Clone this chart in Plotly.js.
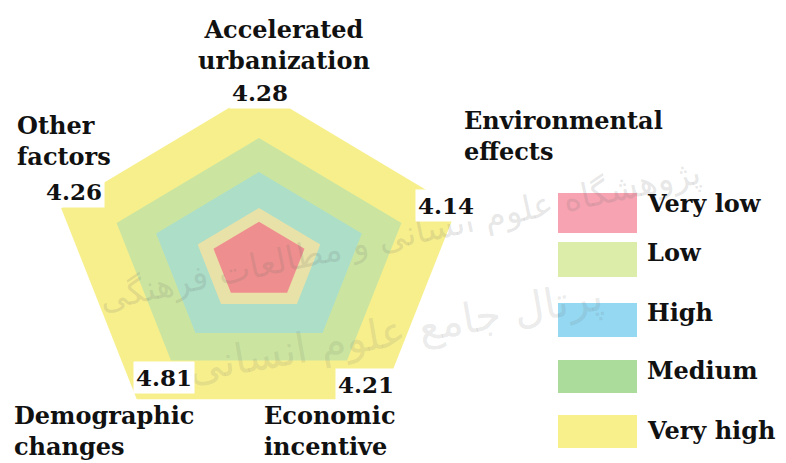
<!DOCTYPE html>
<html>
<head>
<meta charset="utf-8">
<script src="https://cdn.plot.ly/plotly-3.0.1.min.js"></script>
<style>html,body{margin:0;padding:0;background:#fff;}#chart{width:786px;height:463px;}</style>
</head>
<body>
<div id="chart"></div>
<script>
// ---- data ----
const categories = ['Accelerated<br>urbanization', 'Environmental<br>effects', 'Economic<br>incentive', 'Demographic<br>changes', 'Other<br>factors'];
const scores = [4.28, 4.14, 4.21, 4.81, 4.26];
const levels = ['Very low', 'Low', 'High', 'Medium', 'Very high'];
const levelRadius = [1.15, 1.55, 2.6, 3.6, 5.0];   // outer edge of each band, 0-5 scale
const fillColors = ['#ef8e8e', '#e9e2a8', '#acdec8', '#cbe5a0', '#f7ef8c'];
const legendColors = ['#f7a3b2', '#dcedaa', '#94d8f2', '#acdc9c', '#f8f08a'];
const watermark = ['پژوهشگاه علوم انسانی و مطالعات فرهنگی', 'پرتال جامع علوم انسانی'];

// ---- build ----
const W = 786, H = 463;
const n = categories.length;
function ang(i) { return (90 - 360 * i / n) * Math.PI / 180; }
function ring(r) {
  const xs = [], ys = [];
  for (let i = 0; i <= n; i++) { const a = ang(i % n); xs.push(r * Math.cos(a)); ys.push(r * Math.sin(a)); }
  return {xs, ys};
}
const traces = [];
for (let k = levels.length - 1; k >= 0; k--) {
  const p = ring(levelRadius[k]);
  traces.push({
    type: 'scatter', mode: 'lines', x: p.xs, y: p.ys, name: levels[k],
    fill: 'toself', fillcolor: fillColors[k], line: {color: fillColors[k], width: 0},
    hoverinfo: 'name', showlegend: false
  });
}

// axis scale: center at pixel (259,261), outer radius 208px horizontally, 171px vertically
const cx = 259, cy = 261, Rx = 208, Ry = 171, Rmax = 5;
const xr = [(0 - cx) * Rmax / Rx, (W - cx) * Rmax / Rx];
const yr = [(cy - H) * Rmax / Ry, cy * Rmax / Ry];

const px = v => v / W, py = v => 1 - v / H;
const serif = 'DejaVu Serif';
const ann = [];
// watermark (drawn first, faint)
ann.push({xref: 'paper', yref: 'paper', x: px(400), y: py(235), text: watermark[0], showarrow: false, textangle: -12,
  font: {family: 'DejaVu Sans', size: 34, color: 'rgba(110,110,110,0.17)'}});
ann.push({xref: 'paper', yref: 'paper', x: px(395), y: py(395), text: watermark[1], showarrow: false, textangle: -10,
  font: {family: 'DejaVu Sans', size: 42, color: 'rgba(110,110,110,0.15)'}});
// category labels
const catPos = [[284, 45, 'center', 'center'], [462, 136, 'left', 'left'], [262, 431, 'left', 'left'], [12, 431, 'left', 'left'], [15, 141, 'left', 'left']];
categories.forEach((c, i) => {
  const p = catPos[i];
  ann.push({xref: 'paper', yref: 'paper', x: px(p[0]), y: py(p[1]), xanchor: p[2], yanchor: 'middle', align: p[3],
    text: '<b>' + c + '</b>', showarrow: false, font: {family: serif, size: 24, color: '#111'}});
});
// value labels
const valPos = [[260, 92], [446, 205], [366, 384], [164, 377], [74, 191]];
scores.forEach((v, i) => {
  ann.push({xref: 'paper', yref: 'paper', x: px(valPos[i][0]), y: py(valPos[i][1]), xanchor: 'center', yanchor: 'middle',
    text: '<b>' + v.toFixed(2) + '</b>', showarrow: false, bgcolor: '#ffffff', borderpad: 2,
    font: {family: serif, size: 23, color: '#111'}});
});
// legend
const shapes = [];
const legY = [[193, 233], [242, 277], [303, 337], [360, 393], [415, 448]];
const legTextY = [204, 252, 312, 370, 430];
levels.forEach((l, i) => {
  shapes.push({type: 'rect', xref: 'paper', yref: 'paper', x0: px(558), x1: px(637), y0: py(legY[i][1]), y1: py(legY[i][0]),
    fillcolor: legendColors[i], line: {width: 0}, layer: 'below'});
  ann.push({xref: 'paper', yref: 'paper', x: px(645), y: py(legTextY[i]), xanchor: 'left', yanchor: 'middle',
    text: '<b>' + l + '</b>', showarrow: false, font: {family: serif, size: 24, color: '#111'}});
});

const layout = {
  width: W, height: H, margin: {l: 0, r: 0, t: 0, b: 0},
  paper_bgcolor: '#ffffff', plot_bgcolor: 'rgba(0,0,0,0)',
  xaxis: {range: xr, visible: false, fixedrange: true},
  yaxis: {range: yr, visible: false, fixedrange: true},
  showlegend: false, annotations: ann, shapes: shapes
};
Plotly.newPlot('chart', traces, layout, {displayModeBar: false, staticPlot: true});
</script>
</body>
</html>
